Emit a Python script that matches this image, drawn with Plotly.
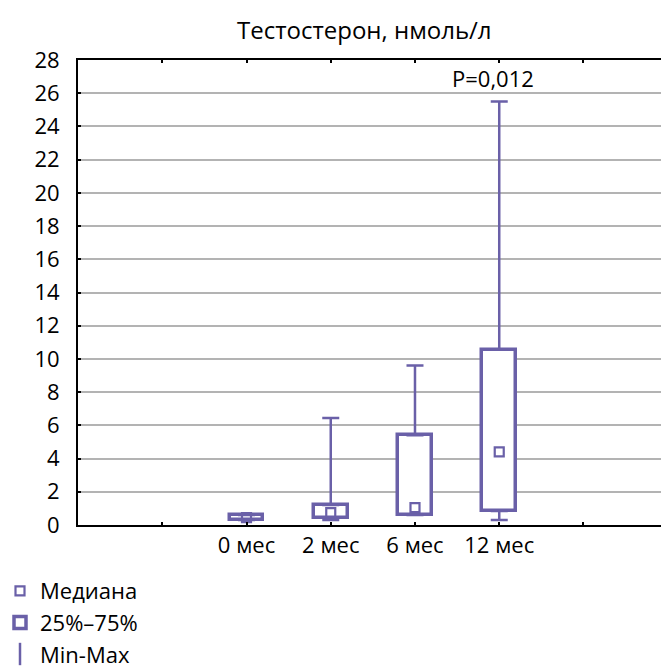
import plotly.graph_objects as go

categories = ["0 мес", "2 мес", "6 мес", "12 мес"]
medians = [0.45, 0.75, 1.05, 4.4]
q1 = [0.3, 0.45, 0.62, 0.85]
q3 = [0.6, 1.2, 5.4, 10.55]
vmin = [0.3, 0.3, 0.6, 0.3]
vmax = [0.6, 6.45, 9.6, 25.5]
y_ticks = list(range(0, 29, 2))
title_text = "Тестостерон, нмоль/л"
p_text = "P=0,012"

PURPLE = "rgb(106,96,168)"
FONT = "Open Sans"
FS = 22

pos = list(range(len(categories)))

fig = go.Figure()

# boxes (25%-75%)
fig.add_trace(go.Bar(
    x=pos, y=[b - a for a, b in zip(q1, q3)], base=q1, width=0.4,
    marker=dict(color="white", line=dict(color=PURPLE, width=3.5)),
    name="25%–75%", legendrank=2, hoverinfo="skip",
))
# upper whiskers
fig.add_trace(go.Scatter(
    x=pos, y=q3, mode="markers", marker=dict(size=1, opacity=0),
    error_y=dict(type="data", symmetric=False,
                 array=[b - a for a, b in zip(q3, vmax)],
                 arrayminus=[0] * len(pos),
                 color=PURPLE, thickness=2.5, width=8.5),
    showlegend=False, hoverinfo="skip",
))
# lower whiskers
fig.add_trace(go.Scatter(
    x=pos, y=q1, mode="markers", marker=dict(size=1, opacity=0),
    error_y=dict(type="data", symmetric=False,
                 array=[0] * len(pos),
                 arrayminus=[a - b for a, b in zip(q1, vmin)],
                 color=PURPLE, thickness=2.5, width=8.5),
    showlegend=False, hoverinfo="skip",
))
# medians
fig.add_trace(go.Scatter(
    x=pos, y=medians, mode="markers",
    marker=dict(symbol="square-open", size=9, color=PURPLE, line=dict(width=2.2, color=PURPLE)),
    name="Медиана", legendrank=1, hoverinfo="skip",
))
# legend entry for whiskers
fig.add_trace(go.Scatter(
    x=[None], y=[None], mode="markers",
    marker=dict(symbol="line-ns-open", size=16, color=PURPLE, line=dict(width=2.5, color=PURPLE)),
    name="Min-Max", legendrank=3,
))

fig.add_annotation(
    text=title_text, xref="paper", yref="paper", x=0.491, y=1.065,
    xanchor="center", yanchor="middle", showarrow=False,
    font=dict(family=FONT, size=24, color="black"),
)
fig.add_annotation(
    text=p_text, xref="x", yref="y", x=2.92, y=26.9,
    xanchor="center", yanchor="middle", showarrow=False,
    font=dict(family=FONT, size=FS, color="black"),
)

fig.update_layout(
    width=661, height=668,
    margin=dict(l=78, r=0, t=60, b=143, autoexpand=False),
    plot_bgcolor="white", paper_bgcolor="white",
    font=dict(family=FONT, size=FS, color="black"),
    showlegend=True,
    legend=dict(
        xref="container", yref="container", x=0.0, y=1 - 570 / 668,
        xanchor="left", yanchor="top",
        font=dict(family=FONT, size=FS, color="black"),
        bgcolor="rgba(0,0,0,0)", itemwidth=30, traceorder="normal",
    ),
    xaxis=dict(
        range=[-2, 4.92], tickmode="array",
        tickvals=[-2, -1] + pos + [4],
        ticktext=["", ""] + categories + [""],
        showgrid=False, zeroline=False,
        showline=True, linecolor="black", linewidth=2, mirror="ticks",
        ticks="inside", ticklen=3, tickwidth=2, tickcolor="black",
        fixedrange=True,
    ),
    yaxis=dict(
        range=[0, 28], tickmode="array", tickvals=y_ticks,
        showgrid=True, gridcolor="#b3b3b3", gridwidth=1.5, zeroline=False,
        showline=True, linecolor="black", linewidth=2,
        ticks="inside", ticklen=3, tickwidth=2, tickcolor="black",
        ticklabelstandoff=12, fixedrange=True,
    ),
    bargap=0,
)

fig.write_html("out.html")
